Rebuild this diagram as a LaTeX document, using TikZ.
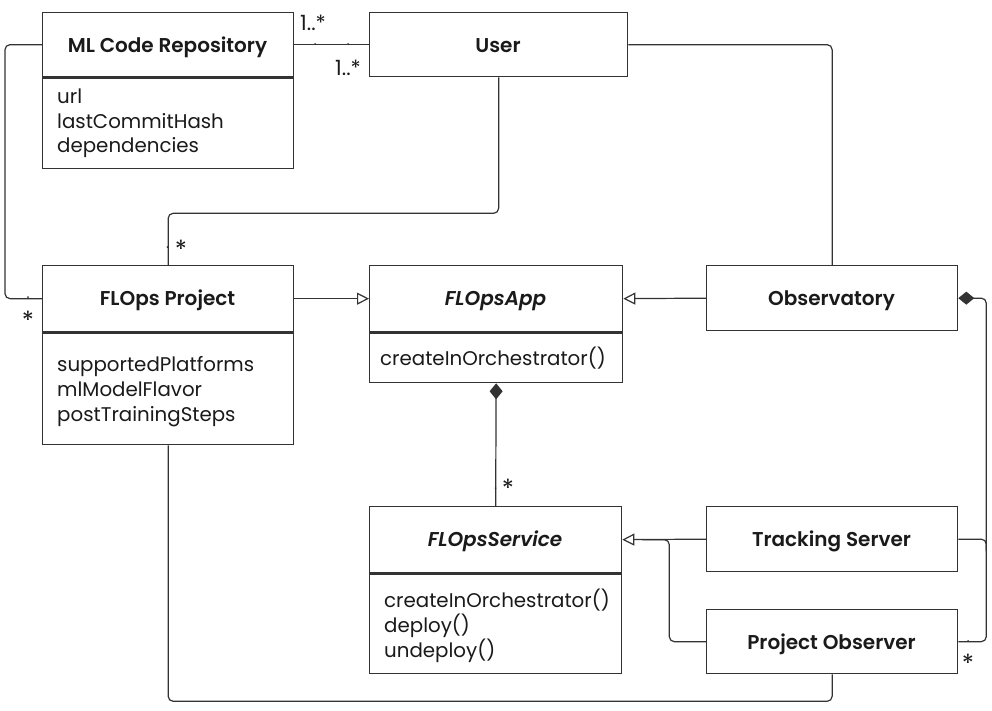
\documentclass[tikz,border=0pt]{standalone}
\usepackage{fontspec}
\setmainfont{Poppins}[BoldFont={Poppins SemiBold}, BoldItalicFont={Poppins SemiBold Italic}]
\usetikzlibrary{arrows.meta}
\definecolor{ln}{HTML}{333333}
\definecolor{tx}{HTML}{1A1A1A}
\begin{document}
\begin{tikzpicture}[x=1pt,y=-1pt,
  box/.style={draw=ln, line width=1.3pt, anchor=north west, inner sep=0pt, fill=white},
  hdr/.style={font=\fontsize{20}{24}\selectfont\bfseries, text=tx, anchor=base, inner sep=0pt},
  hdri/.style={hdr, font=\fontsize{20}{24}\selectfont\bfseries\itshape},
  attr/.style={font=\fontsize{19.8}{24}\selectfont, text=tx, anchor=base west, inner sep=0pt},
  div/.style={draw=ln, line width=3pt},
  conn/.style={draw=ln, line width=1.2pt, rounded corners=5pt},
  gen/.style={conn, -{Triangle[open, length=12pt, width=12pt, fill=white]}},
  comp/.style={conn, -{Diamond[length=16pt, width=13pt, fill=ln]}},
  mult/.style={font=\fontsize{21}{22}\selectfont, text=tx, inner sep=0pt},
  star/.style={font=\fontsize{25}{26}\selectfont, text=tx, inner sep=0pt},
  tick/.style={fill=ln, circle, inner sep=0pt, minimum size=2pt}
]
\useasboundingbox (0,0) rectangle (992,710);

% ---- boxes ----
\node[box, minimum width=251pt, minimum height=92pt] (mlcb) at (42,76) {};
\node[box, minimum width=251pt, minimum height=64pt] (mlc) at (42,12) {};
\node[hdr] (mlct) at (167.5,52) {ML Code Repository};
\draw[div] (mlc.south west) -- (mlc.south east);
\node[attr] (mlc1) at (57,103) {url};
\node[attr] (mlc2) at (57,128) {lastCommitHash};
\node[attr] (mlc3) at (57,152) {dependencies};

\node[box, minimum width=258pt, minimum height=64pt] (user) at (369,12) {};
\node[hdr] (usert) at (498,52) {User};

\node[box, minimum width=251pt, minimum height=113pt] (projb) at (42,331) {};
\node[box, minimum width=251pt, minimum height=66pt] (proj) at (42,265) {};
\node[hdr] (projt) at (167.5,305) {FLOps Project};
\draw[div] (proj.south west) -- (proj.south east);
\node[attr] (proj1) at (57,371) {supportedPlatforms};
\node[attr] (proj2) at (57,396) {mlModelFlavor};
\node[attr] (proj3) at (57,421) {postTrainingSteps};

\node[box, minimum width=253pt, minimum height=51pt] (appb) at (369,331) {};
\node[box, minimum width=253pt, minimum height=66pt] (app) at (369,265) {};
\node[hdri] (appt) at (495.5,305) {FLOpsApp};
\draw[div] (app.south west) -- (app.south east);
\node[attr] (app1) at (380,365) {createInOrchestrator()};

\node[box, minimum width=251pt, minimum height=65pt] (obs) at (706,265) {};
\node[hdr] (obst) at (831.5,305) {Observatory};

\node[box, minimum width=252pt, minimum height=101pt] (svcb) at (369,572) {};
\node[box, minimum width=252pt, minimum height=66pt] (svc) at (369,506) {};
\node[hdri] (svct) at (495,546) {FLOpsService};
\draw[div] (svc.south west) -- (svc.south east);
\node[attr] (svc1) at (384,607) {createInOrchestrator()};
\node[attr] (svc2) at (384,632) {deploy()};
\node[attr] (svc3) at (384,657) {undeploy()};

\node[box, minimum width=251pt, minimum height=65pt] (trk) at (706,506) {};
\node[hdr] (trkt) at (831.5,546) {Tracking Server};

\node[box, minimum width=251pt, minimum height=64pt] (pobs) at (706,609) {};
\node[hdr] (pobst) at (831.5,649) {Project Observer};

% ---- connectors ----
\draw[conn] (mlc.east) -- (user.west);
\node[tick] (t1) at (315,44) {};
\node[tick] (t2) at (348,44) {};
\node[mult] (m1) at (313,23) {1..*};
\node[mult] (m2) at (348,68) {1..*};

\draw[conn] (mlc.west) -- ++(-37,0) |- (proj.west);
\node[tick] (t3) at (28,297) {};
\node[star] (m3) at (28,320) {*};

\draw[conn] (user.south) -- ++(0,136) -| (proj.north);
\node[tick] (t4) at (167.5,247) {};
\node[star] (m4) at (181,249) {*};

\draw[gen] (proj.east) -- (app.west);
\draw[gen] (obs.west) -- (app.east);
\draw[conn] (user.east) -| (obs.north);

\draw[comp] (svc.north) -- (appb.south);
\node[tick] (t5) at (495.5,488) {};
\node[star] (m5) at (508,488) {*};

\draw[conn] (pobs.west) -| ([xshift=47pt]svc.east) -- ([xshift=20pt]svc.east);
\draw[gen] (trk.west) -- (svc.east);

\draw[comp] (pobs.east) -- ++(28,0) |- (obs.east);
\draw[conn] (trk.east) -| ([xshift=28pt,yshift=-12pt]trk.east);
\node[tick] (t6) at (968,641) {};
\node[star] (m6) at (968,663) {*};

\draw[conn] (projb.south) -- ++(0,256) -| (pobs.south);
\end{tikzpicture}
\end{document}
